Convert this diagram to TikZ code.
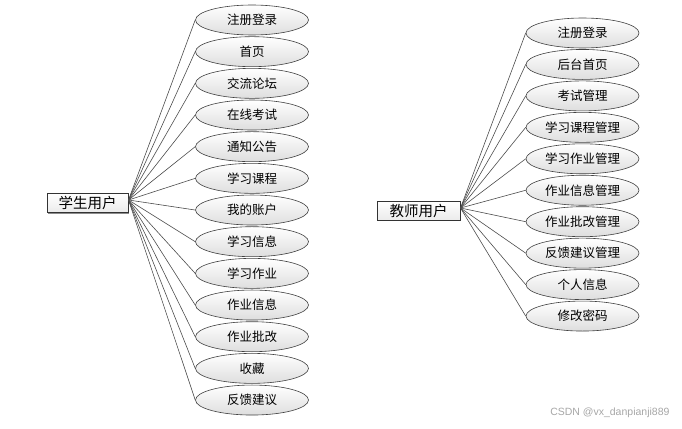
\documentclass[tikz,border=0pt]{standalone}
\usepackage{fontspec}
\setmainfont{Noto Sans CJK SC}
\newfontfamily\wmfont{Liberation Sans}
\usetikzlibrary{shapes.geometric,shadows}
\tikzset{
  usecase/.style={ellipse, draw=black!75, line width=0.6pt, top color=white, bottom color=black!13,
    minimum width=113pt, minimum height=30pt, inner sep=0pt, font=\fontsize{12.5}{14}\selectfont},
  actor/.style={rectangle, draw=black!80, line width=0.6pt, top color=white, bottom color=black!8,
    drop shadow={shadow xshift=1.2pt, shadow yshift=-1.2pt, fill=black!45, opacity=1},
    minimum height=19pt, inner sep=0pt, font=\fontsize{14.5}{16}\selectfont},
  link/.style={draw=black!70, line width=0.6pt}
}
\begin{document}
\begin{tikzpicture}[x=1pt,y=-1pt]
\useasboundingbox (0,0) rectangle (682,428);
% student
\node[actor, minimum width=81pt] (s) at (87.5,203) {学生用户};
\coordinate (sc) at (128.5,200);
\foreach \t [count=\i] in {注册登录,首页,交流论坛,在线考试,通知公告,学习课程,我的账户,学习信息,学习作业,作业信息,作业批改,收藏,反馈建议}{
  \node[usecase] (s\i) at (252,{20+(\i-1)*31.67}) {\t};
  \draw[link] (sc) -- (s\i.west);
}
% teacher
\node[actor, minimum width=83pt] (t) at (418.5,210.5) {教师用户};
\coordinate (tc) at (460.5,208);
\foreach \t [count=\i] in {注册登录,后台首页,考试管理,学习课程管理,学习作业管理,作业信息管理,作业批改管理,反馈建议管理,个人信息,修改密码}{
  \node[usecase] (t\i) at (582.5,{33+(\i-1)*31.45}) {\t};
  \draw[link] (tc) -- (t\i.west);
}
\node[anchor=east, text=black!35, font=\wmfont\fontsize{10.5}{12}\selectfont] (wm) at (673,413) {CSDN @vx\_danpianji889};
\end{tikzpicture}
\end{document}
